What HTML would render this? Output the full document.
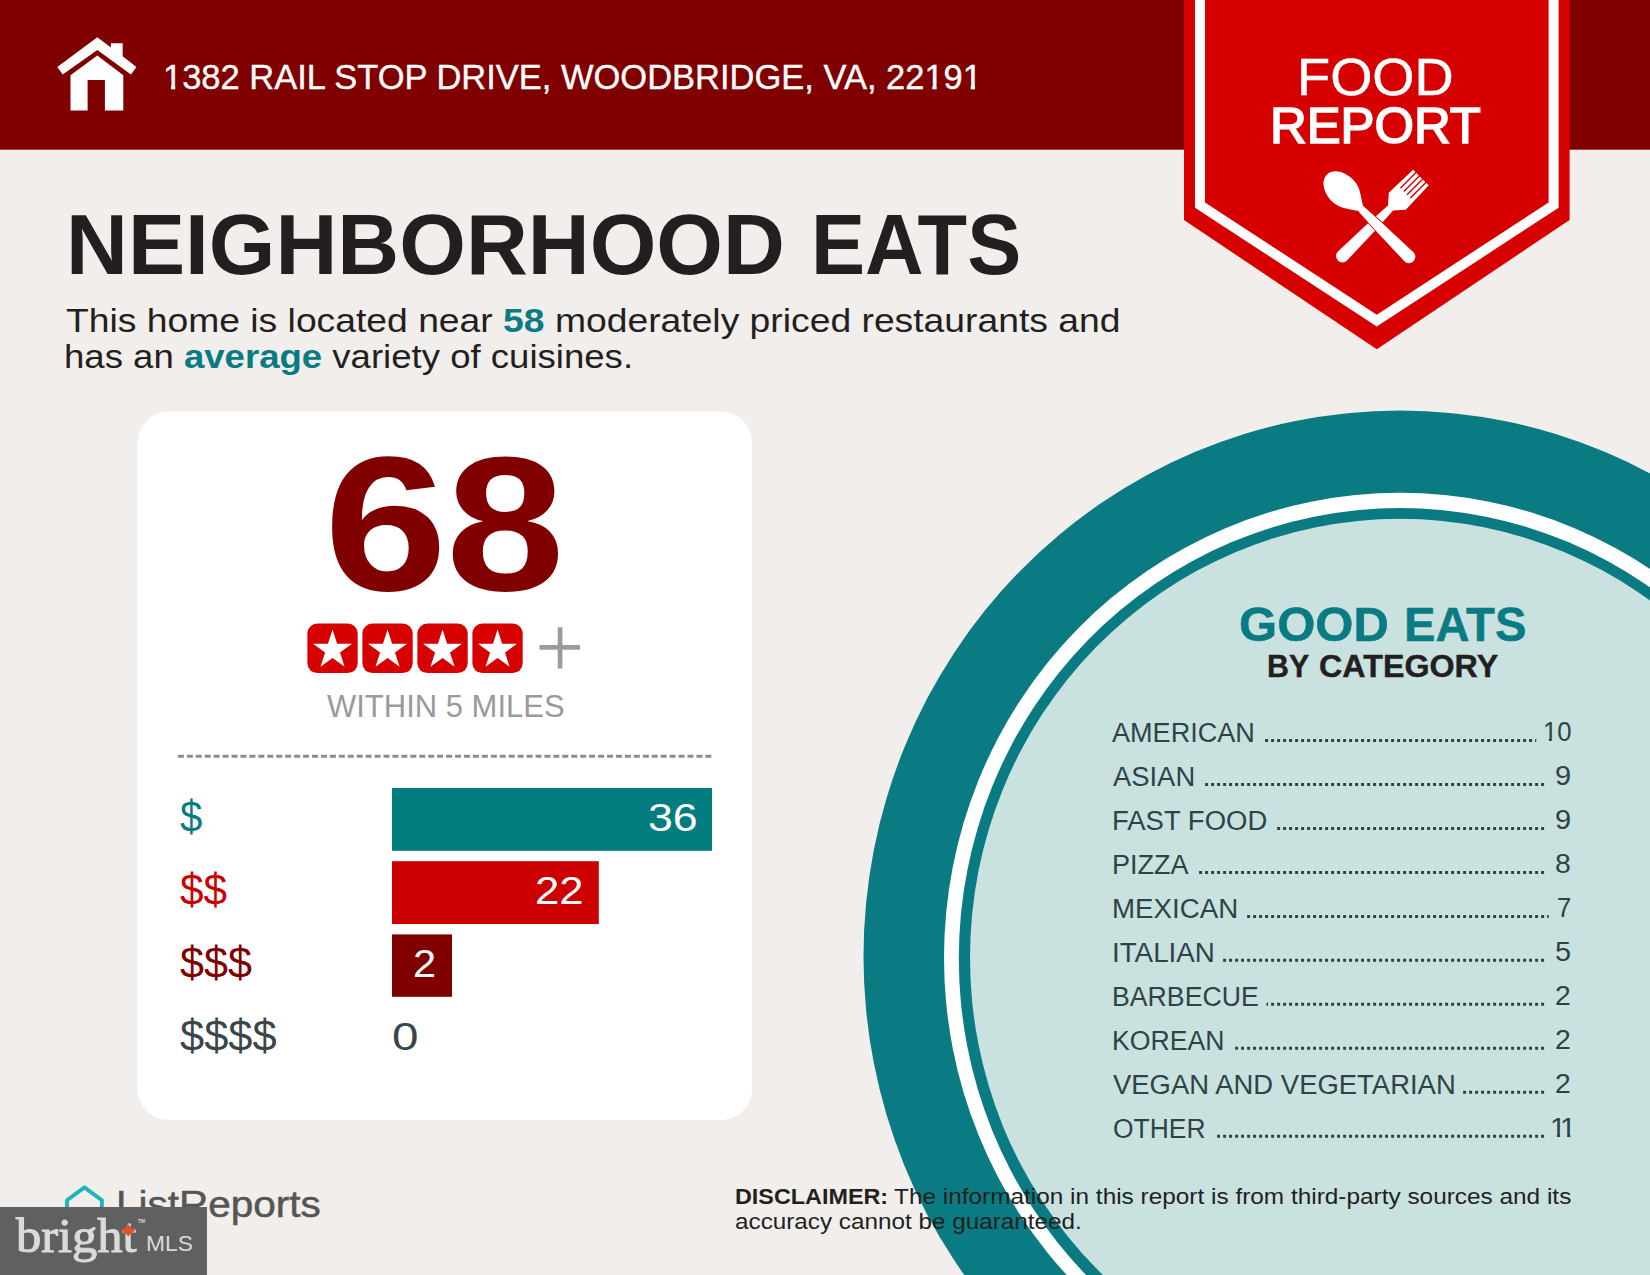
<!DOCTYPE html>
<html><head><meta charset="utf-8"><title>Food Report</title>
<style>
html,body{margin:0;padding:0}
body{width:1650px;height:1275px;position:relative;overflow:hidden;background:#f2eeeb;font-family:"Liberation Sans",sans-serif;color:#231f20}
.t{position:absolute;line-height:0;height:0;white-space:nowrap;transform-origin:0 0;}
.b{font-weight:700}
svg{position:absolute;left:0;top:0}
.abs{position:absolute}
.g{margin:0;padding:0;height:0;line-height:0;font-size:0}
</style></head>
<body>
<svg width="1650" height="1275" viewBox="0 0 1650 1275">
<rect x="0" y="0" width="1650" height="149.7" fill="#800000"/>
<ellipse cx="1400" cy="956.5" rx="536.5" ry="546" fill="#0a7b83"/>
<ellipse cx="1400" cy="957.7" rx="456" ry="464.9" fill="#fff"/>
<ellipse cx="1400" cy="958.5" rx="441.2" ry="450.5" fill="#0a7b83"/>
<ellipse cx="1400" cy="957.7" rx="430" ry="438.9" fill="#c9e2e0"/>
<polygon points="1184,0 1569.6,0 1569.6,220 1376.8,349.3 1184,220" fill="#d60000"/>
<polygon points="1195,-5 1558.6,-5 1558.6,207.7 1376.8,326.6 1195,207.7" fill="#fff"/>
<polygon points="1205,-5 1548.6,-5 1548.6,202.4 1376.8,314.7 1205,202.4" fill="#d60000"/>
<g transform="translate(1376.4,222.1) rotate(45)" fill="#fff"><path d="M-11,-63 L-12,-29.5 L-3.6,-20 L-5,5 L-6.4,48 A6.4,6.4 0 0 0 6.4,48 L5,5 L3.6,-20 L12,-29.5 L11,-63 L7.72,-63 L7.72,-41 L6.32,-41 L6.32,-63 L3.04,-63 L3.04,-41 L1.64,-41 L1.64,-63 L-1.64,-63 L-1.64,-41 L-3.04,-41 L-3.04,-63 L-6.32,-63 L-6.32,-41 L-7.72,-41 L-7.72,-63 Z"/></g>
<g transform="translate(1376.4,222.1) rotate(-45)" fill="#fff" stroke="#d60000" stroke-width="1.6" paint-order="stroke"><path d="M-1.5,-68.6 C7.5,-68.6 13.5,-58 13.5,-46 C13.5,-36 7.5,-30 2.1,-21 L3.5,5 L4.9,47.5 A6.4,6.4 0 0 1 -7.9,47.5 L-6.5,5 L-5.1,-21 C-10.5,-30 -16.7,-36 -16.7,-46 C-16.7,-58 -10.5,-68.6 -1.5,-68.6 Z"/></g>
<g fill="#fff">
<polygon points="97.3,37.3 110.9,47.4 110.9,43.3 122.7,43.3 122.7,56.2 136.4,67 131,74.5 97.3,50 62.7,74.5 57.3,67"/>
<path d="M97.3,55.5 L123.3,75.3 L123.3,110.5 L104.9,110.5 L104.9,80 L87.6,80 L87.6,110.5 L70.5,110.5 L70.5,75.3 Z"/>
</g>
<rect x="137.5" y="411.6" width="614.5" height="708.3" rx="31" ry="31" fill="#fff"/>
<rect x="307.4" y="623.6" width="50.3" height="49.5" rx="10" ry="10" fill="#d60000"/>
<polygon points="332.55,629.60 337.15,643.76 352.05,643.77 340.00,652.52 344.60,666.68 332.55,657.93 320.50,666.68 325.10,652.52 313.05,643.77 327.95,643.76" fill="#fff"/>
<rect x="362.4" y="623.6" width="50.3" height="49.5" rx="10" ry="10" fill="#d60000"/>
<polygon points="387.55,629.60 392.15,643.76 407.05,643.77 395.00,652.52 399.60,666.68 387.55,657.93 375.50,666.68 380.10,652.52 368.05,643.77 382.95,643.76" fill="#fff"/>
<rect x="417.4" y="623.6" width="50.3" height="49.5" rx="10" ry="10" fill="#d60000"/>
<polygon points="442.55,629.60 447.15,643.76 462.05,643.77 450.00,652.52 454.60,666.68 442.55,657.93 430.50,666.68 435.10,652.52 423.05,643.77 437.95,643.76" fill="#fff"/>
<rect x="472.4" y="623.6" width="50.3" height="49.5" rx="10" ry="10" fill="#d60000"/>
<polygon points="497.55,629.60 502.15,643.76 517.05,643.77 505.00,652.52 509.60,666.68 497.55,657.93 485.50,666.68 490.10,652.52 478.05,643.77 492.95,643.76" fill="#fff"/>
<rect x="539.5" y="645.0" width="40.5" height="4.7" fill="#9b9b9b"/>
<rect x="557.7" y="627.3" width="4.7" height="41.2" fill="#9b9b9b"/>
<line x1="177.9" y1="756.2" x2="712" y2="756.2" stroke="#8c8c8c" stroke-width="3" stroke-dasharray="6 2.94"/>
<rect x="392" y="788" width="320" height="62.8" fill="#037c80"/>
<rect x="392" y="861.2" width="206.8" height="62.8" fill="#cc0000"/>
<rect x="392" y="934.4" width="60" height="62.4" fill="#800000"/>
<line x1="1265.1" y1="740.50" x2="1536.3" y2="740.50" stroke="#2f4346" stroke-width="3" stroke-dasharray="3 3"/>
<line x1="1205.1" y1="784.47" x2="1544.1" y2="784.47" stroke="#2f4346" stroke-width="3" stroke-dasharray="3 3"/>
<line x1="1277.1" y1="828.44" x2="1544.1" y2="828.44" stroke="#2f4346" stroke-width="3" stroke-dasharray="3 3"/>
<line x1="1199.1" y1="872.41" x2="1544.1" y2="872.41" stroke="#2f4346" stroke-width="3" stroke-dasharray="3 3"/>
<line x1="1247.1" y1="916.38" x2="1548.7" y2="916.38" stroke="#2f4346" stroke-width="3" stroke-dasharray="3 3"/>
<line x1="1223.1" y1="960.35" x2="1544.1" y2="960.35" stroke="#2f4346" stroke-width="3" stroke-dasharray="3 3"/>
<line x1="1266.5" y1="1004.32" x2="1544.1" y2="1004.32" stroke="#2f4346" stroke-width="3" stroke-dasharray="3 3" stroke-dashoffset="1.4"/>
<line x1="1235.1" y1="1048.29" x2="1544.1" y2="1048.29" stroke="#2f4346" stroke-width="3" stroke-dasharray="3 3"/>
<line x1="1463.1" y1="1092.26" x2="1544.1" y2="1092.26" stroke="#2f4346" stroke-width="3" stroke-dasharray="3 3"/>
<line x1="1217.1" y1="1136.23" x2="1544.1" y2="1136.23" stroke="#2f4346" stroke-width="3" stroke-dasharray="3 3"/>
<path d="M67,1224 V1200.3 L84.5,1187.4 L101.9,1200.3 V1224" fill="none" stroke="#1cb5ba" stroke-width="3.9" stroke-linejoin="round"/>
</svg>
<div class="t" style="left:162.96px;top:76.60px;font-size:35.5px;color:#fff;transform:scaleX(0.9713);-webkit-text-stroke:0.35px #fff;">1382 RAIL STOP DRIVE, WOODBRIDGE, VA, 22191</div>
<div class="g"><span class="t" style="left:1297.31px;top:77.15px;font-size:51.8px;color:#fff;transform:scaleX(1.0472);-webkit-text-stroke:0.5px #fff;">FOOD</span> <span class="t" style="left:1270.46px;top:126.41px;font-size:50.2px;color:#fff;transform:scaleX(1.0122);-webkit-text-stroke:1.7px #fff;">REPORT</span></div>
<div class="g"><span class="t" style="left:65.99px;top:245.24px;font-size:85.6px;color:#231f20;transform:scaleX(1.0011);font-weight:700;">NEIGHBORHOOD</span> <span class="t" style="left:811.06px;top:245.24px;font-size:85.6px;color:#231f20;transform:scaleX(0.9472);font-weight:700;">EATS</span></div>
<div class="g"><span class="t" style="left:66.00px;top:320.86px;font-size:33.6px;color:#231f20;transform:scaleX(1.1099);">This home is located near <b style="color:#0a7b83">58</b> moderately priced restaurants and</span> <span class="t" style="left:63.82px;top:356.66px;font-size:33.6px;color:#231f20;transform:scaleX(1.0888);">has an <b style="color:#0a7b83">average</b> variety of cuisines.</span></div>
<div class="g"><span class="t" style="left:323.72px;top:524.37px;font-size:192px;color:#800000;transform:scaleX(1.1538);font-weight:700;">6</span><span class="t" style="left:446.04px;top:524.37px;font-size:192px;color:#800000;transform:scaleX(1.1105);font-weight:700;">8</span></div>
<div class="t" style="left:326.50px;top:706.79px;font-size:31.2px;color:#9a9a9a;transform:scaleX(0.9937);">WITHIN 5 MILES</div>
<div class="t" style="left:180.20px;top:816.98px;font-size:44.5px;color:#0a7b83;transform:scaleX(0.9000);">$</div>
<div class="t" style="left:180.20px;top:890.38px;font-size:44.5px;color:#cc0000;transform:scaleX(0.9510);">$$</div>
<div class="t" style="left:180.20px;top:963.08px;font-size:44.5px;color:#800000;transform:scaleX(0.9676);">$$$</div>
<div class="t" style="left:180.20px;top:1036.28px;font-size:44.5px;color:#3b4649;transform:scaleX(0.9758);">$$$$</div>
<div class="t" style="left:647.83px;top:817.83px;font-size:38px;color:#fff;transform:scaleX(1.1750);">36</div>
<div class="t" style="left:534.85px;top:890.83px;font-size:38px;color:#fff;transform:scaleX(1.1500);">22</div>
<div class="t" style="left:412.91px;top:963.83px;font-size:38px;color:#fff;transform:scaleX(1.0947);">2</div>
<div class="t" style="left:391.75px;top:1037.33px;font-size:38px;color:#3b4649;transform:scaleX(1.2526);">0</div>
<div class="g"><span class="t" style="left:1238.77px;top:624.91px;font-size:47.6px;color:#0a7b83;transform:scaleX(1.0301);font-weight:700;-webkit-text-stroke:0.5px #0a7b83;">GOOD</span> <span class="t" style="left:1404.03px;top:624.91px;font-size:47.6px;color:#0a7b83;transform:scaleX(0.9916);font-weight:700;-webkit-text-stroke:0.5px #0a7b83;">EATS</span> <span class="t" style="left:1266.72px;top:666.96px;font-size:31.0px;color:#231f20;transform:scaleX(0.9786);font-weight:700;-webkit-text-stroke:0.4px #231f20;">BY</span> <span class="t" style="left:1319.06px;top:666.96px;font-size:31.0px;color:#231f20;transform:scaleX(1.0404);font-weight:700;-webkit-text-stroke:0.4px #231f20;">CATEGORY</span></div>
<div class="t" style="left:1112.40px;top:732.13px;font-size:28.2px;color:#2f4346;transform:scaleX(0.9605);">AMERICAN</div>
<div class="t" style="left:1542.75px;top:732.27px;font-size:27.8px;color:#2f4346;transform:scaleX(0.9250);">10</div>
<div class="t" style="left:1112.60px;top:776.10px;font-size:28.2px;color:#2f4346;transform:scaleX(0.9711);">ASIAN</div>
<div class="t" style="left:1555.16px;top:776.24px;font-size:27.8px;color:#2f4346;transform:scaleX(1.0429);">9</div>
<div class="t" style="left:1111.55px;top:820.07px;font-size:28.2px;color:#2f4346;transform:scaleX(0.9750);">FAST FOOD</div>
<div class="t" style="left:1555.16px;top:820.21px;font-size:27.8px;color:#2f4346;transform:scaleX(1.0429);">9</div>
<div class="t" style="left:1111.58px;top:864.04px;font-size:28.2px;color:#2f4346;transform:scaleX(0.9590);">PIZZA</div>
<div class="t" style="left:1555.18px;top:864.18px;font-size:27.8px;color:#2f4346;transform:scaleX(1.0214);">8</div>
<div class="t" style="left:1111.54px;top:908.01px;font-size:28.2px;color:#2f4346;transform:scaleX(0.9824);">MEXICAN</div>
<div class="t" style="left:1556.98px;top:908.15px;font-size:27.8px;color:#2f4346;transform:scaleX(0.9214);">7</div>
<div class="t" style="left:1111.53px;top:951.98px;font-size:28.2px;color:#2f4346;transform:scaleX(0.9851);">ITALIAN</div>
<div class="t" style="left:1555.16px;top:952.12px;font-size:27.8px;color:#2f4346;transform:scaleX(1.0429);">5</div>
<div class="t" style="left:1111.61px;top:995.95px;font-size:28.2px;color:#2f4346;transform:scaleX(0.9467);">BARBECUE</div>
<div class="t" style="left:1555.18px;top:996.09px;font-size:27.8px;color:#2f4346;transform:scaleX(1.0214);">2</div>
<div class="t" style="left:1111.61px;top:1039.92px;font-size:28.2px;color:#2f4346;transform:scaleX(0.9452);">KOREAN</div>
<div class="t" style="left:1555.18px;top:1040.06px;font-size:27.8px;color:#2f4346;transform:scaleX(1.0214);">2</div>
<div class="t" style="left:1112.90px;top:1083.89px;font-size:28.2px;color:#2f4346;transform:scaleX(0.9740);">VEGAN AND VEGETARIAN</div>
<div class="t" style="left:1555.18px;top:1084.03px;font-size:27.8px;color:#2f4346;transform:scaleX(1.0214);">2</div>
<div class="t" style="left:1112.56px;top:1127.86px;font-size:28.2px;color:#2f4346;transform:scaleX(0.9371);">OTHER</div>
<div class="g"><span class="t" style="left:1550.00px;top:1128.00px;font-size:27.8px;color:#2f4346;transform:scaleX(1.0360);">1</span><span class="t" style="left:1560.20px;top:1128.00px;font-size:27.8px;color:#2f4346;transform:scaleX(1.0360);">1</span></div>
<div class="g"><span class="t" style="left:734.87px;top:1197.27px;font-size:22.6px;color:#231f20;transform:scaleX(1.0338);font-weight:700;">DISCLAIMER:</span> <span class="t" style="left:893.60px;top:1197.27px;font-size:22.6px;color:#231f20;transform:scaleX(1.0788);">The information in this report is from third-party sources and its</span> <span class="t" style="left:734.83px;top:1221.57px;font-size:22.6px;color:#231f20;transform:scaleX(1.0741);">accuracy cannot be guaranteed.</span></div>
<div class="t" style="left:116.09px;top:1205.32px;font-size:36.6px;color:#555555;transform:scaleX(1.1071);-webkit-text-stroke:0.5px #555555;">ListReports</div>
<div class="g"><span class="t" style="left:16.05px;top:1235.60px;font-size:48px;color:#dadada;transform:scaleX(1.0517);font-family:'Liberation Serif',serif;-webkit-text-stroke:1.1px #dadada;z-index:3;">bright</span><span class="t" style="left:137.50px;top:1221.09px;font-size:5.5px;color:#dadada;transform:scaleX(0.8750);font-weight:700;z-index:3;">TM</span> <span class="t" style="left:146.45px;top:1244.18px;font-size:21.7px;color:#dadada;transform:scaleX(1.0512);z-index:3;">MLS</span></div>
<svg width="1650" height="1275" viewBox="0 0 1650 1275" style="z-index:1"><rect x="163.47" y="85.07" width="7.52" height="5.71" fill="#800000"/><rect x="175.27" y="85.07" width="7.24" height="5.71" fill="#800000"/><rect x="924.86" y="85.07" width="7.52" height="5.71" fill="#800000"/><rect x="936.66" y="85.07" width="7.24" height="5.71" fill="#800000"/><rect x="963.21" y="85.07" width="7.52" height="5.71" fill="#800000"/><rect x="975.01" y="85.07" width="7.24" height="5.71" fill="#800000"/><rect x="1543.26" y="738.80" width="5.61" height="4.80" fill="#c9e2e0"/><rect x="1551.81" y="738.80" width="5.40" height="4.80" fill="#c9e2e0"/><rect x="1550.58" y="1134.53" width="6.28" height="4.80" fill="#c9e2e0"/><rect x="1560.14" y="1134.53" width="6.05" height="4.80" fill="#c9e2e0"/><rect x="1560.76" y="1134.53" width="6.28" height="4.80" fill="#c9e2e0"/><rect x="1570.33" y="1134.53" width="6.05" height="4.80" fill="#c9e2e0"/></svg>
<div class="abs" style="left:0;top:1207.3px;width:207px;height:68px;background:#606060;z-index:2"></div>
<svg width="1650" height="1275" viewBox="0 0 1650 1275" style="z-index:4;pointer-events:none"><path d="M120.6,1230.4 Q125.6,1228.6 128.3,1224.2 Q131,1228.6 136,1230.4 Q131,1232.2 128.3,1236.6 Q125.6,1232.2 120.6,1230.4 Z" fill="#e2502b"/></svg>
</body></html>
